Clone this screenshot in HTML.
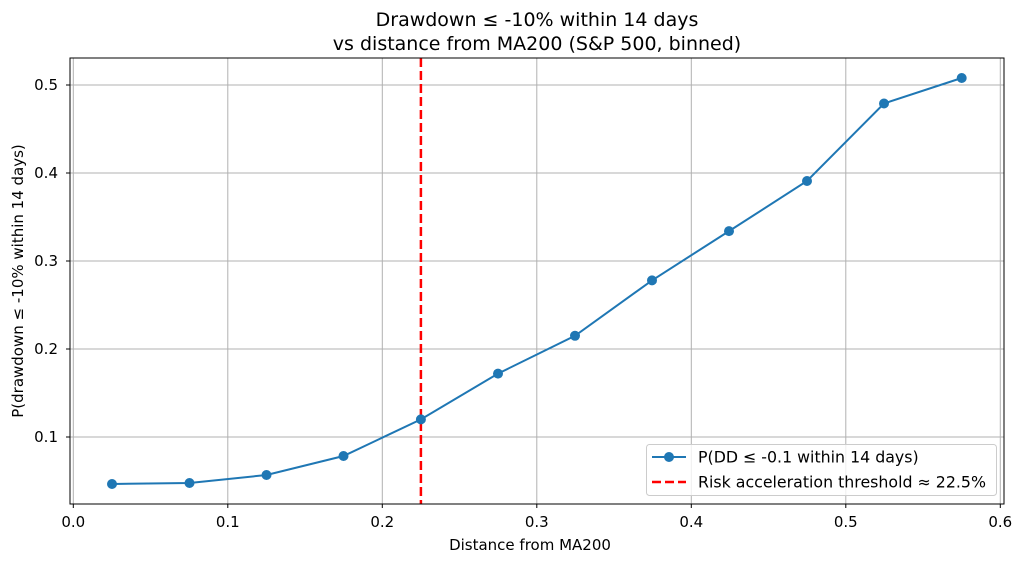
<!DOCTYPE html>
<html><head><meta charset="utf-8"><style>body{margin:0;background:#fff}svg{display:block}text{font-family:"DejaVu Sans",sans-serif;fill:#000}</style></head>
<body>
<svg width="1024" height="564" xmlns="http://www.w3.org/2000/svg">
<text x="537" y="26" font-size="19" text-anchor="middle">Drawdown ≤ -10% within 14 days</text>
<text x="537" y="50" font-size="19" text-anchor="middle">vs distance from MA200 (S&amp;P 500, binned)</text>
<g stroke="#b0b0b0" stroke-width="1">
<line x1="73.3" y1="58" x2="73.3" y2="504"/><line x1="227.8" y1="58" x2="227.8" y2="504"/><line x1="382.3" y1="58" x2="382.3" y2="504"/><line x1="536.8" y1="58" x2="536.8" y2="504"/><line x1="691.3" y1="58" x2="691.3" y2="504"/><line x1="845.8" y1="58" x2="845.8" y2="504"/><line x1="1000.3" y1="58" x2="1000.3" y2="504"/>
<line x1="70" y1="437" x2="1004" y2="437"/><line x1="70" y1="349" x2="1004" y2="349"/><line x1="70" y1="261" x2="1004" y2="261"/><line x1="70" y1="173" x2="1004" y2="173"/><line x1="70" y1="85" x2="1004" y2="85"/>
</g>
<g stroke="#000" stroke-width="1">
<line x1="73.3" y1="504" x2="73.3" y2="508"/><line x1="227.8" y1="504" x2="227.8" y2="508"/><line x1="382.3" y1="504" x2="382.3" y2="508"/><line x1="536.8" y1="504" x2="536.8" y2="508"/><line x1="691.3" y1="504" x2="691.3" y2="508"/><line x1="845.8" y1="504" x2="845.8" y2="508"/><line x1="1000.3" y1="504" x2="1000.3" y2="508"/>
<line x1="66" y1="437" x2="70" y2="437"/><line x1="66" y1="349" x2="70" y2="349"/><line x1="66" y1="261" x2="70" y2="261"/><line x1="66" y1="173" x2="70" y2="173"/><line x1="66" y1="85" x2="70" y2="85"/>
</g>
<g font-size="15" text-anchor="middle">
<text x="73.3" y="527">0.0</text><text x="227.8" y="527">0.1</text><text x="382.3" y="527">0.2</text><text x="536.8" y="527">0.3</text><text x="691.3" y="527">0.4</text><text x="845.8" y="527">0.5</text><text x="1000.3" y="527">0.6</text>
</g>
<g font-size="15" text-anchor="end">
<text x="58" y="442">0.1</text><text x="58" y="354">0.2</text><text x="58" y="266">0.3</text><text x="58" y="178">0.4</text><text x="58" y="90">0.5</text>
</g>
<text x="530" y="550" font-size="15" text-anchor="middle">Distance from MA200</text>
<text transform="translate(23,281) rotate(-90)" font-size="15" text-anchor="middle">P(drawdown ≤ -10% within 14 days)</text>
<line x1="420.9" y1="58" x2="420.9" y2="504" stroke="#ff0000" stroke-width="2.5" stroke-dasharray="9,4"/>
<polyline fill="none" stroke="#1f77b4" stroke-width="2" points="112,484 189.5,483 266.5,475 343.5,456 420.9,419.4 498,373.6 575,335.8 652,280.4 729,231.1 807,181 884,103.5 961.7,78"/>
<g fill="#1f77b4">
<circle cx="112" cy="484" r="5"/><circle cx="189.5" cy="483" r="5"/><circle cx="266.5" cy="475" r="5"/><circle cx="343.5" cy="456" r="5"/><circle cx="420.9" cy="419.4" r="5"/><circle cx="498" cy="373.6" r="5"/><circle cx="575" cy="335.8" r="5"/><circle cx="652" cy="280.4" r="5"/><circle cx="729" cy="231.1" r="5"/><circle cx="807" cy="181" r="5"/><circle cx="884" cy="103.5" r="5"/><circle cx="961.7" cy="78" r="5"/>
</g>
<rect x="70" y="58" width="934" height="446" fill="none" stroke="#000" stroke-width="1"/>
<rect x="646.5" y="444.5" width="350" height="51" rx="3" fill="#fff" fill-opacity="0.8" stroke="#ccc"/>
<line x1="652" y1="457" x2="686" y2="457" stroke="#1f77b4" stroke-width="2"/><circle cx="669" cy="457" r="5" fill="#1f77b4"/>
<text x="698" y="462.5" font-size="15.8">P(DD ≤ -0.1 within 14 days)</text>
<line x1="652" y1="482" x2="686" y2="482" stroke="#ff0000" stroke-width="2.5" stroke-dasharray="9,4"/>
<text x="698" y="487.5" font-size="15.8">Risk acceleration threshold ≈ 22.5%</text>
</svg>
</body></html>
